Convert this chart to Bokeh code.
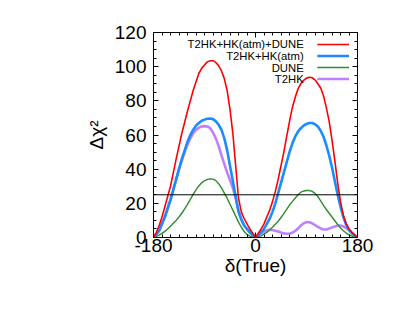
from bokeh.plotting import figure
from bokeh.models import Range1d, LinearAxis, FixedTicker, Span
from bokeh.core.properties import value
from bokeh.embed import file_html
from bokeh.resources import INLINE

# ---- data ----
delta = list(range(-180, 181, 5))

t2hk_hk_dune = [0, 3, 7, 12, 18, 24, 30, 38, 46, 53.5, 61, 67.5, 74, 80, 86, 91, 96, 99, 101, 102.8,
                103.5, 103.5, 102.5, 100.5, 97.5, 93, 86, 75, 61, 42, 23, 15, 11, 8, 5, 2.5,
                0, 2.5, 5, 8, 12, 16, 21, 27, 34, 42, 50, 59, 68, 76, 82, 87, 90, 92, 93.3, 93.8,
                93.5, 92.3, 90, 87.5, 83, 76, 68, 57, 45, 32, 21, 13, 8, 5, 3, 1.5, 0]
t2hk_hk = [0, 2, 4, 8, 12, 17, 22, 28, 34, 40, 46, 51, 56, 60, 63, 65.5, 67, 68.3, 69, 69.5,
           69.7, 69.3, 68, 66, 63, 58, 51, 42, 33, 24, 15, 10.5, 7, 5, 3, 1.5,
           0, 1.5, 3, 5, 8, 11, 15, 20, 26, 32, 38, 44, 50, 55, 59, 62, 64, 65.5, 66.5, 67,
           67, 66.3, 65, 62.5, 59, 54, 48, 41, 33, 25, 18, 12, 7.5, 4.5, 2.5, 1, 0]
dune = [0, 0.6, 1.4, 2.4, 3.6, 5, 6.6, 8.3, 10, 12, 14.2, 16.7, 19.4, 22.3, 25.2, 27.9, 30.2, 32, 33.2, 34,
        34.3, 34.2, 33.3, 31.5, 29, 26, 23, 19.5, 16, 12.5, 9, 6, 3.5, 1.8, 0.8, 0.3,
        0, 0.4, 1, 2, 3, 4.5, 6, 7.7, 9.5, 11.7, 14, 16.5, 19, 21, 23, 25, 26.5, 27.2, 27.5, 27.5,
        27, 25.8, 24, 21.5, 18.8, 16.4, 14.2, 12, 9.8, 7.6, 5.6, 4, 2.6, 1.5, 0.8, 0.3, 0]
t2hk = [0, 2, 4, 8, 12, 17, 22, 28, 34, 40, 45, 50, 54.5, 58, 61, 63, 64.3, 65, 65.2, 65,
        64, 61.5, 58, 53.5, 48, 43, 38, 33.5, 29, 23, 16, 10.5, 7, 5, 3, 1.5,
        0, 1.3, 2.5, 3.5, 4.2, 4.5, 4.4, 4, 3.5, 2.9, 2.4, 2.2, 2.3, 2.8, 3.8, 5.2, 7, 8.3, 9, 8.9,
        8.3, 7.3, 6.2, 5.3, 4.7, 4.7, 5.2, 5.9, 6.5, 7, 7, 6.5, 5.5, 4.3, 2.8, 1.4, 0]

series_names = ["T2HK+HK(atm)+DUNE", "T2HK+HK(atm)", "DUNE", "T2HK"]
series_values = [t2hk_hk_dune, t2hk_hk, dune, t2hk]
threshold = 25

x_major = [-180, 0, 180]
x_labels = {-180: "-180", 0: "0", 180: "180"}
x_minor = list(range(-180, 181, 15))
y_major = list(range(0, 121, 20))
y_minor = list(range(0, 121, 5))

# ---- style ----
colors = ["#ff0000", "#1a8cff", "#2e8b2e", "#bf80ff"]
widths = [1.6, 2.6, 1.4, 2.6]
FONT = "Liberation Sans"

p = figure(frame_width=204, frame_height=205,
           min_border_left=153, min_border_right=41, min_border_top=32, min_border_bottom=71,
           x_range=Range1d(-180, 180), y_range=Range1d(0, 120),
           output_backend="svg", toolbar_location=None)
p.xgrid.visible = False
p.ygrid.visible = False
p.outline_line_color = "black"
p.outline_line_width = 1
p.background_fill_color = "white"
p.border_fill_color = "white"

xt = FixedTicker(ticks=x_major, minor_ticks=x_minor)
yt = FixedTicker(ticks=y_major, minor_ticks=y_minor)

def style_axis(ax):
    ax.axis_line_color = "black"
    ax.axis_line_width = 1
    ax.major_tick_in = 5
    ax.major_tick_out = 0
    ax.minor_tick_in = 3
    ax.minor_tick_out = 0
    ax.major_tick_line_color = "black"
    ax.minor_tick_line_color = "black"
    ax.major_label_text_font = FONT
    ax.axis_label_text_font = FONT
    ax.axis_label_text_font_style = "normal"
    ax.axis_label_text_color = "black"
    ax.major_label_text_color = "black"
    ax.major_label_text_font_size = "19px"
    ax.axis_label_text_font_size = "19px"

xa = p.xaxis[0]
xa.ticker = xt
style_axis(xa)
xa.major_label_overrides = x_labels
xa.major_label_standoff = 1
xa.axis_label = "δ(True)"
xa.axis_label_standoff = 0

ya = p.yaxis[0]
ya.ticker = yt
style_axis(ya)
ya.major_label_standoff = 7
ya.axis_label = "Δχ²"
ya.axis_label_standoff = 5

# mirror axes: ticks only
top = LinearAxis(ticker=xt)
style_axis(top)
top.major_label_overrides = {t: "" for t in x_major}
p.add_layout(top, "above")
right = LinearAxis(ticker=yt)
style_axis(right)
right.major_label_overrides = {t: "" for t in y_major}
p.add_layout(right, "right")

# curves
for i in [3, 2, 1, 0]:
    p.line(delta, series_values[i], line_color=colors[i], line_width=widths[i], line_join="round")

p.add_layout(Span(location=threshold, dimension="width", line_color="black", line_width=1))

# manual legend (text right-aligned, sample line on the right)
ly = [113 - 6.75 * i for i in range(len(series_names))]
p.text(x=[85] * 4, y=ly, text=series_names, text_align="right", text_baseline="middle",
       text_font=value(FONT), text_font_size="11.3px", text_color="black")
p.segment(x0=[109] * 4, y0=ly, x1=[165] * 4, y1=ly, line_color=colors, line_width=widths)

open("out.html", "w").write(file_html(p, INLINE))
